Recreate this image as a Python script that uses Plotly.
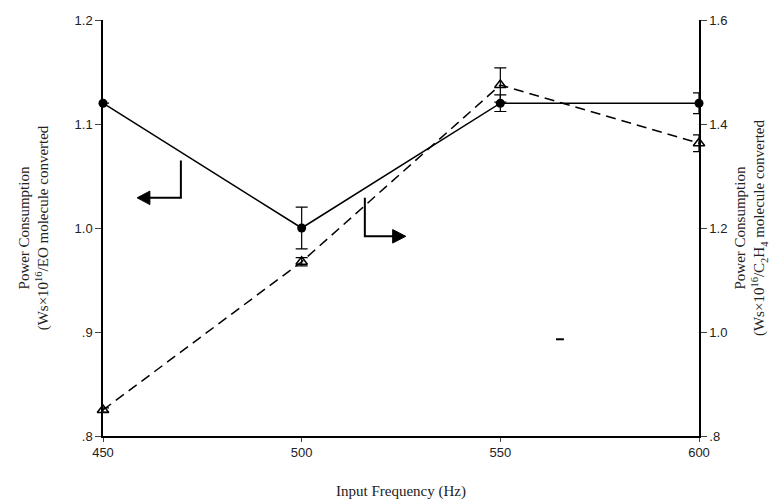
import plotly.graph_objects as go

freq = [450, 500, 550, 600]
eo_power = [1.12, 1.0, 1.12, 1.12]
eo_err = [0.0, 0.02, 0.008, 0.01]
c2h4_power = [0.85, 1.135, 1.475, 1.363]
c2h4_err = [0.004, 0.008, 0.033, 0.016]

left_ticks = [0.8, 0.9, 1.0, 1.1, 1.2]
left_labels = [".8", ".9", "1.0", "1.1", "1.2"]
right_ticks = [0.8, 1.0, 1.2, 1.4, 1.6]
right_labels = [".8", "1.0", "1.2", "1.4", "1.6"]
x_ticks = [450, 500, 550, 600]

fig = go.Figure()
fig.add_trace(go.Scatter(
    x=freq, y=eo_power, mode="lines+markers", yaxis="y",
    line=dict(color="black", width=1.5),
    marker=dict(symbol="circle", size=9, color="black"),
    error_y=dict(type="data", array=eo_err, color="black", thickness=1.2, width=6),
    cliponaxis=False, showlegend=False))
fig.add_trace(go.Scatter(
    x=freq, y=c2h4_power, mode="lines+markers", yaxis="y2",
    line=dict(color="black", width=1.5, dash="10px,6px"),
    marker=dict(symbol="triangle-up-open", size=10, color="black", line=dict(width=1.5)),
    error_y=dict(type="data", array=c2h4_err, color="black", thickness=1.2, width=6),
    cliponaxis=False, showlegend=False))

tickfont = dict(family="Liberation Sans, Arial", size=13, color="#222")
titlefont = dict(family="Liberation Serif, Times New Roman", size=15, color="#222")

fig.update_layout(
    width=778, height=503,
    margin=dict(l=103, r=79, t=20, b=67),
    paper_bgcolor="white", plot_bgcolor="white",
    xaxis=dict(range=[450, 600], tickvals=x_ticks, ticks="outside", ticklen=4,
               showline=True, linecolor="black", linewidth=1.5, showgrid=False,
               zeroline=False, tickfont=tickfont, automargin=False,
               title=dict(text="Input Frequency (Hz)", font=titlefont, standoff=26)),
    yaxis=dict(range=[0.8, 1.2], tickvals=left_ticks, ticktext=left_labels,
               ticks="outside", ticklen=6, showline=True, linecolor="black",
               linewidth=1.5, showgrid=False, zeroline=False, tickfont=tickfont,
               automargin=False,
               title=dict(text="Power Consumption<br>(Ws×10<sup>16</sup>/EO molecule converted",
                          font=titlefont, standoff=22)),
    yaxis2=dict(range=[0.8, 1.6], tickvals=right_ticks, ticktext=right_labels,
                overlaying="y", side="right", anchor="x",
                ticks="outside", ticklen=6, showline=True, linecolor="black",
                linewidth=1.5, showgrid=False, zeroline=False, tickfont=tickfont,
                automargin=False,
                title=dict(text="Power Consumption<br>(Ws×10<sup>16</sup>/C<sub>2</sub>H<sub>4</sub> molecule converted",
                           font=titlefont, standoff=8)),
)

# Axis indicator arrows (left arrow -> EO axis, right arrow -> C2H4 axis)
line_style = dict(color="black", width=2)
fig.add_shape(type="path", xref="x", yref="y",
              path="M 469.6,1.065 L 469.6,1.029 L 461.5,1.029", line=line_style)
fig.add_shape(type="path", xref="x", yref="y",
              path="M 461.8,1.0355 L 458.6,1.029 L 461.8,1.0225 Z",
              line=dict(color="black", width=1), fillcolor="black")
fig.add_shape(type="path", xref="x", yref="y",
              path="M 515.9,1.029 L 515.9,0.992 L 523.2,0.992", line=line_style)
fig.add_shape(type="path", xref="x", yref="y",
              path="M 522.9,0.9985 L 526.2,0.992 L 522.9,0.9855 Z",
              line=dict(color="black", width=1), fillcolor="black")
# small stray dash
fig.add_shape(type="line", xref="x", yref="y", x0=564.0, y0=0.893, x1=566.0, y1=0.893,
              line=dict(color="black", width=2))

fig.write_html("out.html")
